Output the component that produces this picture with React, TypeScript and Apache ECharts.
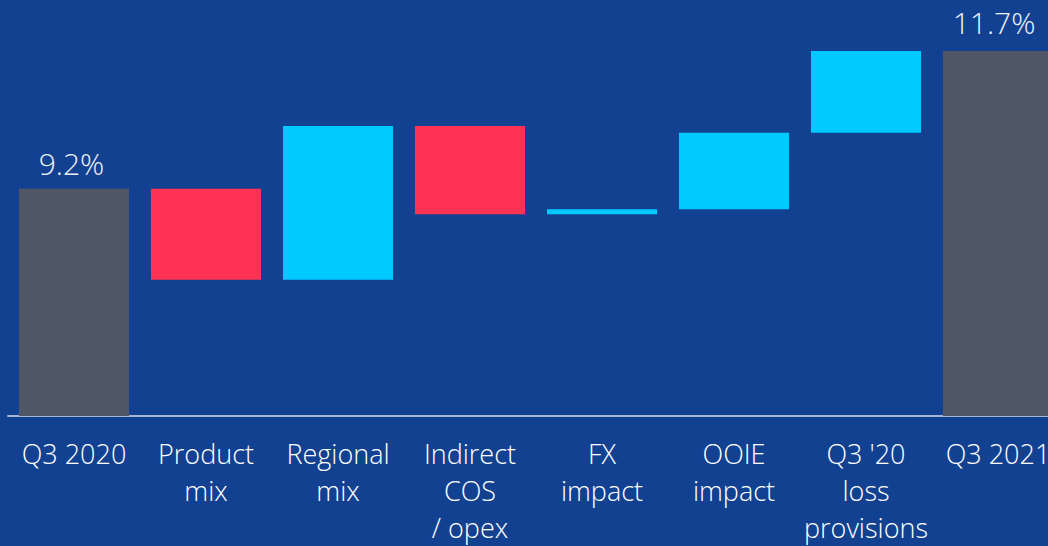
import React, { useEffect, useRef } from "react";
import * as echarts from "echarts";

const categories: string[] = [
  "Q3 2020",
  "Product\nmix",
  "Regional\nmix",
  "Indirect\nCOS\n/ opex",
  "FX\nimpact",
  "OOIE\nimpact",
  "Q3 '20\nloss\nprovisions",
  "Q3 2021",
];
const startValue = 9.2;
const endValue = 11.7;
const deltas: number[] = [-1.65, 2.79, -1.6, 0.09, 1.39, 1.48];
const totalLabels: string[] = ["9.2%", "11.7%"];

const COLOR_TOTAL = "#4f5766";
const COLOR_UP = "#00c9ff";
const COLOR_DOWN = "#ff3154";
const BG = "#124191";

export default function App() {
  const ref = useRef<HTMLDivElement>(null);
  useEffect(() => {
    if (!ref.current) return;
    const chart = echarts.init(ref.current, undefined, { renderer: "svg", width: 1064, height: 546 });

    const rows: any[] = [];
    rows.push([0, 0, startValue, "total"]);
    let cum = startValue;
    deltas.forEach((d, i) => {
      const next = cum + d;
      rows.push([i + 1, Math.min(cum, next), Math.max(cum, next), d >= 0 ? "up" : "down"]);
      cum = next;
    });
    rows.push([categories.length - 1, 0, endValue, "total"]);

    const yMin = 5.08;
    const font = "'Open Sans', 'Noto Sans', sans-serif";

    chart.setOption({
      animation: false,
      backgroundColor: BG,
      grid: { left: 8, right: 0, top: 29, height: 391, containLabel: false },
      xAxis: {
        type: "category",
        data: categories,
        axisTick: { show: false },
        axisLine: { lineStyle: { color: "#a9b5d3", width: 2 } },
        axisLabel: {
          interval: 0,
          color: "#ffffff",
          fontSize: 27,
          lineHeight: 37,
          margin: 19,
          fontFamily: font,
          fontWeight: 300,
        },
      },
      yAxis: {
        type: "value",
        min: yMin,
        max: 12.1,
        show: false,
        splitLine: { show: false },
      },
      series: [
        {
          type: "custom",
          data: rows,
          encode: { x: 0, y: [1, 2] },
          renderItem: (params: any, api: any) => {
            const idx = api.value(0);
            const low = Math.max(api.value(1), yMin);
            const high = api.value(2);
            const kind = rows[params.dataIndex][3];
            const p1 = api.coord([idx, high]);
            const p0 = api.coord([idx, low]);
            const band = api.size([1, 0])[0];
            const w = band * 0.834;
            const color = kind === "total" ? COLOR_TOTAL : kind === "up" ? COLOR_UP : COLOR_DOWN;
            const children: any[] = [
              {
                type: "rect",
                shape: { x: p1[0] - w / 2, y: p1[1], width: w, height: p0[1] - p1[1] },
                style: { fill: color },
              },
            ];
            if (kind === "total") {
              const first = params.dataIndex === 0;
              children.push({
                type: "text",
                x: p1[0] - (first ? 2.5 : 4),
                y: p1[1] - (first ? 25 : 29),
                style: {
                  text: first ? totalLabels[0] : totalLabels[1],
                  fill: "#eef1f7",
                  fontSize: 30,
                  fontFamily: font,
                  fontWeight: 300,
                  align: "center",
                  verticalAlign: "middle",
                },
              });
            }
            return { type: "group", children };
          },
        },
      ],
    });
    return () => chart.dispose();
  }, []);
  return (
    <div style={{ position: "fixed", left: 0, top: 0, width: 1048, height: 546, overflow: "hidden" }}>
      <div ref={ref} style={{ width: 1064, height: 546 }} />
    </div>
  );
}
